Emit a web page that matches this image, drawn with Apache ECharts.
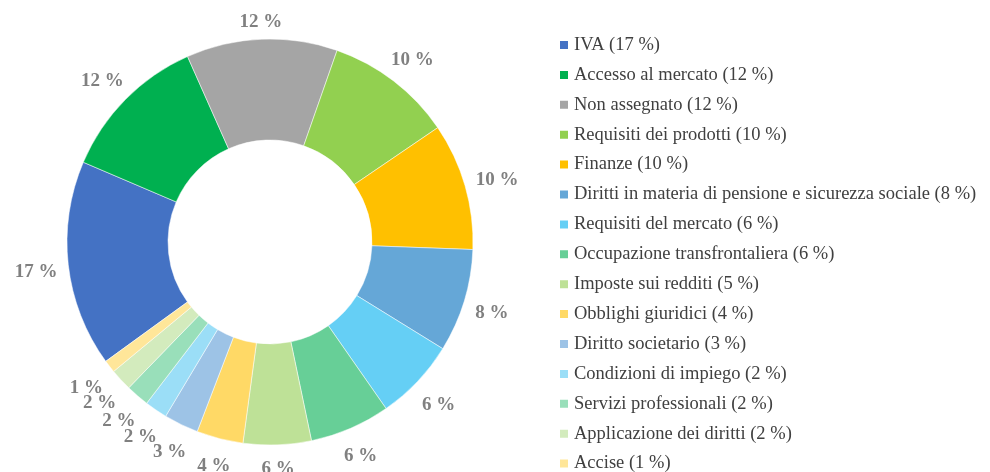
<!DOCTYPE html>
<html>
<head>
<meta charset="utf-8">
<script src="https://cdn.jsdelivr.net/npm/echarts@6/dist/echarts.min.js"></script>
<style>
  html, body { margin: 0; padding: 0; background: #fff; }
  #main { width: 990px; height: 472px; }
</style>
</head>
<body>
<div id="main"></div>
<script>
// categorie
const categories = [
  "IVA",
  "Accesso al mercato",
  "Non assegnato",
  "Requisiti dei prodotti",
  "Finanze",
  "Diritti in materia di pensione e sicurezza sociale",
  "Requisiti del mercato",
  "Occupazione transfrontaliera",
  "Imposte sui redditi",
  "Obblighi giuridici",
  "Diritto societario",
  "Condizioni di impiego",
  "Servizi professionali",
  "Applicazione dei diritti",
  "Accise"
];
// ampiezza delle fette (%)
const sliceValues = [16.4, 11.9, 12.0, 10.1, 10.1, 8.2, 6.5, 6.4, 5.4, 3.7, 2.75, 1.8, 1.85, 1.75, 1.0];
// etichette sulle fette (%)
const sliceLabels = [17, 12, 12, 10, 10, 8, 6, 6, 6, 4, 3, 2, 2, 2, 1];
// percentuali in legenda
const legendShares = [17, 12, 12, 10, 10, 8, 6, 6, 5, 4, 3, 2, 2, 2, 1];
const colors = [
  "#4472C4", "#00B050", "#A5A5A5", "#92D050", "#FFC000",
  "#65A7D7", "#65CFF5", "#67CF97", "#BEE197", "#FFD966",
  "#9DC3E6", "#9BDEF7", "#99DFBA", "#D3EBBD", "#FFE699"
];

const CENTER = [270, 242];
const RADIUS = [102, 203];
const START_ANGLE = 216;
const LABEL_GAP = 10; // distanza tra bordo della fetta e riquadro etichetta
const LABEL_DY = 4;

const total = sliceValues.reduce((a, b) => a + b, 0);
// angolo medio di ogni fetta (gradi, senso orario da START_ANGLE)
const midAngles = [];
sliceValues.reduce((acc, v) => {
  midAngles.push(START_ANGLE - (acc + v / 2) / total * 360);
  return acc + v;
}, 0);

const chart = echarts.init(document.getElementById("main"));

const pieData = categories.map((name, i) => ({
  name: name,
  value: sliceValues[i],
  itemStyle: { color: colors[i] }
}));

const option = {
  animation: false,
  legend: {
    orient: "vertical",
    left: 558,
    top: 35,
    height: 450,
    padding: 0,
    itemWidth: 10,
    itemHeight: 10,
    itemGap: 9.9,
    icon: "rect",
    textStyle: {
      fontFamily: "Liberation Serif",
      fontSize: 18.5,
      lineHeight: 20,
      color: "#404040"
    },
    formatter: function (name) {
      const i = categories.indexOf(name);
      return name + " (" + legendShares[i] + " %)";
    }
  },
  series: [
    {
      type: "pie",
      center: CENTER,
      radius: RADIUS,
      startAngle: START_ANGLE,
      clockwise: true,
      avoidLabelOverlap: false,
      itemStyle: {
        borderColor: "#fff",
        borderWidth: 0.5
      },
      label: {
        show: true,
        position: "outside",
        formatter: function (p) {
          return sliceLabels[p.dataIndex] + " %";
        },
        fontFamily: "Liberation Serif",
        fontSize: 19,
        fontWeight: "bold",
        color: "#808080"
      },
      labelLine: {
        show: false,
        length: 14,
        length2: 0
      },
      // etichette fuori dal bordo, riquadro spinto verso l'esterno
      labelLayout: function (params) {
        const a = midAngles[params.dataIndex] * Math.PI / 180;
        const ux = Math.cos(a);
        const uy = -Math.sin(a);
        const hw = params.labelRect.width / 2;
        const hh = 10;
        const d = RADIUS[1] + LABEL_GAP + Math.abs(ux) * hw + Math.abs(uy) * hh;
        return {
          x: CENTER[0] + ux * d,
          y: CENTER[1] + uy * d + LABEL_DY,
          align: "center",
          verticalAlign: "middle"
        };
      },
      data: pieData
    }
  ]
};

chart.setOption(option);
</script>
</body>
</html>
